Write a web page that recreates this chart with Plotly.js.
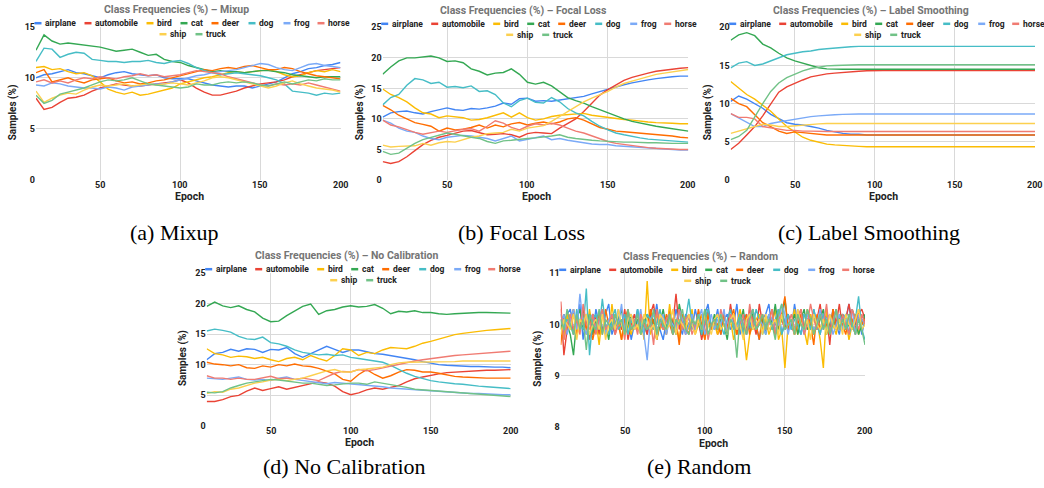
<!DOCTYPE html>
<html><head><meta charset="utf-8">
<script src="https://cdn.plot.ly/plotly-3.0.1.min.js"></script>
<style>html,body{margin:0;padding:0;background:#fff}#chart{width:1044px;height:488px}</style>
</head><body><div id="chart"></div>
<script>
// ---------- data ----------
const classNames = ['airplane','automobile','bird','cat','deer','dog','frog','horse','ship','truck'];
const epochs = [10,15,20,25,30,35,40,45,50,55,60,65,70,75,80,85,90,95,100,105,110,115,120,125,130,135,140,145,150,155,160,165,170,175,180,185,190,195,200];
const epochsRandom = [10,12,14,16,18,20,22,24,26,28,30,32,34,36,38,40,42,44,46,48,50,52,54,56,58,60,62,64,66,68,70,72,74,76,78,80,82,84,86,88,90,92,94,96,98,100,102,104,106,108,110,112,114,116,118,120,122,124,126,128,130,132,134,136,138,140,142,144,146,148,150,152,154,156,158,160,162,164,166,168,170,172,174,176,178,180,182,184,186,188,190,192,194,196,198,200];
const yTicksMixup = [0,5,10,15];
const yTicksFocal = [0,5,10,15,20,25];
const yTicksSmoothing = [0,5,10,15,20];
const yTicksNoCal = [0,5,10,15,20,25];
const yTicksRandom = [8,9,10,11];
const xTicks = [50,100,150,200];

// (a) Mixup
const mixup_airplane = [10.0,10.3,10.4,10.6,10.8,10.5,10.4,10.2,10.0,10.3,10.5,10.6,10.4,10.3,10.2,10.3,10.0,9.9,9.9,9.9,9.7,9.5,9.3,9.2,9.1,9.2,9.2,9.0,9.2,9.4,9.6,10.0,10.4,10.6,10.9,11.0,11.2,11.3,11.5];
const mixup_automobile = [8.0,6.9,7.1,7.6,8.0,8.1,8.3,8.7,9.0,9.2,9.4,9.3,9.2,9.2,9.3,9.4,9.5,9.6,9.8,9.5,9.0,8.6,8.3,8.3,8.5,8.7,9.0,9.2,9.4,9.5,9.6,9.8,10.1,10.3,10.5,10.7,10.8,10.9,11.0];
const mixup_bird = [11.0,11.1,10.8,10.9,10.6,10.4,10.5,10.2,9.6,8.9,8.6,8.4,8.6,8.3,8.4,8.6,8.8,9.0,9.4,9.6,9.8,10.0,10.1,10.3,10.5,10.6,10.5,10.6,10.7,10.8,10.6,10.3,10.1,10.2,10.5,10.7,10.6,10.8,10.6];
const mixup_cat = [12.7,14.2,13.6,13.3,13.4,13.3,13.2,13.1,13.0,12.8,12.6,12.7,12.8,12.5,12.2,12.3,11.8,11.6,11.5,11.2,11.0,10.8,10.6,10.7,10.6,10.6,10.5,10.6,10.7,10.7,10.6,10.5,10.3,10.2,10.1,10.0,10.1,10.1,10.1];
const mixup_deer = [10.5,10.8,9.6,9.8,10.0,9.7,9.5,9.8,9.9,10.0,9.7,9.5,9.6,9.4,9.5,9.7,9.8,10.0,10.2,10.4,10.6,10.8,10.7,10.9,11.0,10.9,11.1,11.2,11.0,10.8,10.8,11.0,10.9,10.6,10.4,10.2,10.1,10.0,9.9];
const mixup_dog = [11.6,12.9,12.8,12.0,12.3,12.5,12.4,11.8,11.7,11.6,11.6,11.5,11.6,11.6,11.7,11.5,11.4,11.6,11.7,11.4,11.0,10.7,10.5,10.3,10.4,10.5,10.4,10.3,10.2,10.0,9.8,9.4,8.7,8.6,8.5,8.3,8.5,8.4,8.5];
const mixup_frog = [9.3,9.2,9.5,9.4,9.2,9.1,9.0,9.0,8.9,9.1,9.0,8.8,9.1,9.2,9.3,9.4,9.4,9.6,9.8,10.0,10.2,10.3,10.5,10.6,10.7,10.8,11.0,11.2,11.4,11.3,11.0,10.8,10.7,11.0,11.3,11.4,11.2,11.1,11.0];
const mixup_horse = [9.6,9.8,9.5,9.7,9.5,9.8,10.0,9.9,10.1,10.0,9.9,10.1,10.2,10.4,10.2,10.3,10.1,10.2,10.3,10.5,10.7,10.6,10.5,10.4,10.1,9.9,9.7,9.5,9.3,9.2,9.4,9.3,9.4,9.3,9.5,9.3,9.1,8.9,8.7];
const mixup_ship = [8.7,7.6,8.0,8.3,8.5,8.4,8.8,9.1,9.3,9.2,9.3,9.4,9.2,9.3,9.4,9.3,9.4,9.5,9.4,9.3,9.5,9.7,10.0,10.1,10.0,9.8,9.6,9.4,9.2,9.0,9.2,9.5,9.7,9.4,9.2,9.0,8.9,8.8,8.6];
const mixup_truck = [8.3,7.5,7.8,8.4,8.6,8.8,9.0,9.3,9.6,9.8,9.7,9.8,10.0,9.7,9.4,9.3,9.2,9.1,9.0,9.1,9.4,9.3,9.3,9.5,9.6,9.5,9.6,9.5,9.3,9.2,9.4,9.6,9.4,9.6,9.8,9.7,9.9,9.8,9.8];

// (b) Focal Loss
const focal_airplane = [10.3,11.0,11.2,11.3,11.0,10.8,11.2,11.5,11.8,11.5,11.4,11.7,11.6,11.8,12.1,12.6,12.4,13.3,13.4,12.9,13.0,12.9,13.1,13.3,13.5,13.7,14.1,14.5,14.8,15.2,15.6,15.9,16.2,16.4,16.6,16.8,16.9,17.0,17.0];
const focal_automobile = [3.0,2.7,3.0,3.8,4.8,5.8,6.5,7.0,7.3,7.6,8.0,8.1,7.8,7.4,7.5,7.6,7.4,7.0,7.6,7.8,7.7,7.6,8.5,9.3,10.0,11.2,12.6,13.9,14.8,15.6,16.3,16.8,17.2,17.5,17.8,18.0,18.2,18.3,18.4];
const focal_bird = [14.9,14.0,13.5,12.8,11.8,11.0,10.8,10.2,10.5,10.3,10.2,9.8,9.9,10.2,10.6,11.0,10.3,11.0,10.2,9.8,10.0,10.4,10.6,10.7,10.8,10.9,10.6,10.4,10.3,10.1,9.9,9.8,9.6,9.5,9.4,9.4,9.3,9.2,9.2];
const focal_cat = [17.3,18.5,19.5,20.0,20.0,20.1,20.3,20.0,19.4,19.5,19.2,18.2,17.8,17.2,17.5,17.6,18.2,17.3,16.0,15.7,16.0,15.4,14.4,13.5,13.0,12.6,12.0,11.5,10.9,10.4,10.0,9.6,9.3,9.0,8.8,8.6,8.4,8.2,8.0];
const focal_deer = [12.2,11.5,10.6,10.0,9.4,9.1,8.8,8.0,8.5,8.2,8.3,8.6,9.0,8.5,9.0,8.7,9.2,9.4,9.0,9.3,9.5,9.2,9.5,10.0,10.2,9.8,9.2,8.6,8.3,8.0,7.9,7.8,7.6,7.5,7.4,7.3,7.2,7.0,6.9];
const focal_dog = [12.3,13.5,14.0,15.5,16.6,16.4,15.8,16.0,15.2,15.3,15.1,15.4,14.5,14.6,14.0,12.6,12.0,13.0,13.4,12.7,12.6,13.5,12.8,11.7,11.0,10.5,9.6,8.8,8.2,7.7,7.4,7.1,6.9,6.7,6.6,6.5,6.4,6.3,6.2];
const focal_frog = [9.8,9.3,8.5,8.0,7.8,7.2,6.8,6.6,7.0,7.2,7.3,7.2,7.0,6.8,6.4,6.8,7.2,6.4,6.7,6.9,7.2,6.6,6.8,6.5,6.3,6.0,5.9,5.8,5.8,5.6,5.5,5.4,5.3,5.2,5.1,5.0,5.0,4.9,4.9];
const focal_horse = [9.8,9.0,8.7,8.2,7.8,7.5,7.7,8.0,7.8,8.1,8.3,8.4,8.0,8.8,9.7,9.3,8.6,8.2,8.8,9.2,9.0,9.3,9.0,8.5,8.0,7.7,7.2,6.7,6.3,6.0,5.8,5.6,5.4,5.3,5.2,5.1,5.0,5.0,5.0];
const focal_ship = [5.7,5.4,5.5,5.6,5.6,6.0,5.7,6.1,6.3,6.2,6.6,7.0,7.2,7.6,7.7,7.8,8.3,8.0,8.5,8.7,8.9,9.6,10.4,11.2,12.0,12.8,13.4,13.9,14.5,15.2,15.8,16.2,16.6,17.0,17.3,17.5,17.7,17.9,18.1];
const focal_truck = [4.7,4.2,4.4,5.2,6.0,6.6,7.0,7.4,7.7,7.5,7.2,7.0,6.8,6.3,6.0,6.4,6.5,6.7,6.8,6.9,7.0,7.2,7.4,7.0,6.8,6.6,6.5,6.4,6.3,6.3,6.2,6.2,6.1,6.1,6.1,6.0,6.0,6.0,6.0];

// (c) Label Smoothing
const ls_airplane = [10.3,11.0,10.6,10.0,9.4,8.6,8.0,7.5,7.3,7.2,7.0,6.8,6.5,6.3,6.1,6.0,6.0,5.9,5.9,5.9,5.9,5.9,5.9,5.9,5.9,5.9,5.9,5.9,5.9,5.9,5.9,5.9,5.9,5.9,5.9,5.9,5.9,5.9,5.9];
const ls_automobile = [4.0,4.8,5.9,7.0,8.4,10.0,11.5,12.2,12.7,13.1,13.5,13.7,13.9,14.0,14.1,14.2,14.25,14.3,14.35,14.35,14.35,14.35,14.35,14.35,14.35,14.35,14.35,14.35,14.35,14.35,14.35,14.35,14.35,14.35,14.35,14.35,14.35,14.35,14.35];
const ls_bird = [12.9,12.0,11.2,10.6,9.8,9.0,8.0,7.0,6.3,5.6,5.2,4.9,4.7,4.6,4.5,4.45,4.4,4.35,4.35,4.35,4.35,4.35,4.35,4.35,4.35,4.35,4.35,4.35,4.35,4.35,4.35,4.35,4.35,4.35,4.35,4.35,4.35,4.35,4.35];
const ls_cat = [18.3,19.0,19.3,18.9,17.8,17.3,16.6,16.0,15.6,15.3,15.0,14.7,14.55,14.5,14.5,14.5,14.5,14.5,14.5,14.5,14.5,14.5,14.5,14.5,14.5,14.5,14.5,14.5,14.5,14.5,14.5,14.5,14.5,14.5,14.5,14.5,14.5,14.5,14.5];
const ls_deer = [10.7,10.0,9.6,8.5,7.5,7.0,6.4,6.1,6.3,6.2,6.1,6.0,5.9,5.9,5.9,5.9,5.9,5.9,5.9,5.9,5.9,5.9,5.9,5.9,5.9,5.9,5.9,5.9,5.9,5.9,5.9,5.9,5.9,5.9,5.9,5.9,5.9,5.9,5.9];
const ls_dog = [14.7,15.3,15.5,15.0,15.2,15.6,15.9,16.4,16.6,16.8,16.9,17.1,17.2,17.3,17.4,17.45,17.5,17.5,17.5,17.5,17.5,17.5,17.5,17.5,17.5,17.5,17.5,17.5,17.5,17.5,17.5,17.5,17.5,17.5,17.5,17.5,17.5,17.5,17.5];
const ls_frog = [8.7,8.1,7.6,7.0,7.0,7.4,7.6,7.8,8.0,8.2,8.3,8.4,8.5,8.55,8.6,8.65,8.65,8.65,8.65,8.65,8.65,8.65,8.65,8.65,8.65,8.65,8.65,8.65,8.65,8.65,8.65,8.65,8.65,8.65,8.65,8.65,8.65,8.65,8.65];
const ls_horse = [8.7,8.2,8.2,8.0,7.0,6.8,6.6,6.5,6.5,6.4,6.4,6.35,6.35,6.35,6.35,6.35,6.35,6.35,6.35,6.35,6.35,6.35,6.35,6.35,6.35,6.35,6.35,6.35,6.35,6.35,6.35,6.35,6.35,6.35,6.35,6.35,6.35,6.35,6.35];
const ls_ship = [6.1,6.4,6.7,7.0,7.3,7.2,7.0,7.0,7.1,7.2,7.3,7.35,7.4,7.4,7.4,7.4,7.4,7.4,7.4,7.4,7.4,7.4,7.4,7.4,7.4,7.4,7.4,7.4,7.4,7.4,7.4,7.4,7.4,7.4,7.4,7.4,7.4,7.4,7.4];
const ls_truck = [5.3,5.7,6.5,8.3,10.0,11.6,12.7,13.4,13.9,14.3,14.6,14.8,14.95,15.0,15.05,15.1,15.1,15.1,15.1,15.1,15.1,15.1,15.1,15.1,15.1,15.1,15.1,15.1,15.1,15.1,15.1,15.1,15.1,15.1,15.1,15.1,15.1,15.1,15.1];

// (d) No Calibration
const nc_airplane = [10.8,11.8,12.0,12.5,12.2,12.6,12.5,12.0,12.5,12.4,12.8,11.8,11.2,11.8,12.5,13.0,12.5,12.0,12.4,12.4,12.1,11.8,11.7,11.5,11.2,11.1,10.8,10.5,10.2,10.0,9.9,9.8,9.8,9.7,9.7,9.6,9.6,9.6,9.5];
const nc_automobile = [4.0,4.0,4.3,4.8,5.0,5.7,6.2,5.8,6.1,6.4,6.0,6.3,6.6,6.8,7.2,7.0,6.5,5.6,5.1,5.4,5.9,6.2,6.0,6.3,6.6,7.2,7.7,8.0,8.3,8.5,8.7,8.8,8.9,9.0,9.0,9.1,9.1,9.1,9.2];
const nc_bird = [12.6,11.8,11.6,11.2,11.4,11.3,11.0,11.2,10.8,10.5,11.0,11.2,10.8,11.5,11.0,10.6,11.5,12.6,12.4,11.5,12.0,11.8,12.4,12.8,12.7,12.6,13.0,13.5,13.8,14.2,14.6,14.9,15.1,15.3,15.5,15.6,15.7,15.8,15.9];
const nc_cat = [19.5,20.2,19.6,19.3,19.6,19.0,18.6,17.6,17.0,17.1,18.0,18.8,19.5,19.9,18.2,18.8,19.0,19.4,19.6,19.4,19.5,19.8,19.2,18.3,18.7,18.6,18.8,18.5,18.5,18.3,18.2,18.3,18.4,18.4,18.5,18.5,18.5,18.5,18.4];
const nc_deer = [10.4,10.1,10.0,9.8,10.0,9.5,9.4,9.8,9.6,10.0,9.8,10.1,9.8,9.7,9.4,9.0,8.5,7.6,7.3,8.4,9.2,8.4,7.8,8.2,8.8,9.2,9.1,8.8,8.8,8.6,8.3,8.1,8.0,7.9,7.9,7.8,7.8,7.8,7.8];
const nc_dog = [15.5,15.8,15.6,15.3,14.6,14.2,14.1,14.5,13.6,13.4,13.0,12.4,12.0,11.8,11.6,11.7,11.5,11.6,11.2,11.0,10.8,10.6,10.4,9.9,9.2,8.6,8.1,7.7,7.4,7.2,7.0,6.9,6.8,6.6,6.5,6.4,6.3,6.2,6.1];
const nc_frog = [7.8,7.7,7.6,7.8,8.0,7.6,7.5,7.6,7.4,7.8,8.0,7.6,7.4,7.2,7.0,6.9,7.1,7.0,6.9,6.8,6.6,6.5,6.4,6.2,6.1,6.0,5.9,5.8,5.8,5.7,5.6,5.5,5.4,5.3,5.3,5.2,5.2,5.1,5.1];
const nc_horse = [8.2,7.8,7.8,7.6,7.8,7.6,7.6,7.9,8.1,7.7,7.8,7.6,7.8,7.6,7.4,8.0,8.6,8.9,8.8,9.2,9.0,9.2,9.5,9.8,10.1,10.4,10.6,10.8,11.0,11.2,11.4,11.5,11.6,11.7,11.8,11.9,12.0,12.1,12.2];
const nc_ship = [5.3,5.6,5.5,6.0,6.2,6.6,7.0,7.2,7.5,7.6,7.4,7.6,7.8,8.2,8.6,9.0,9.2,8.8,8.8,9.2,9.3,9.4,9.6,10.0,10.3,10.4,10.4,10.5,10.5,10.5,10.5,10.5,10.6,10.6,10.6,10.6,10.6,10.6,10.6];
const nc_truck = [5.5,5.4,5.6,6.2,6.6,7.0,7.2,7.4,7.6,7.5,7.3,7.2,7.0,7.0,6.8,6.6,6.7,6.9,7.0,7.0,6.8,7.2,7.0,6.8,6.6,6.3,6.0,5.9,5.8,5.7,5.6,5.5,5.4,5.3,5.2,5.1,5.0,4.9,4.8];

// (e) Random
const rnd_airplane = [10.1,9.8,10.2,10.3,9.9,10.0,10.4,9.7, 10.2,10.1,9.8,10.3,10.0,9.9,10.2,10.4, 9.8,10.0,10.3,9.9,10.1,10.2,9.7,10.0, 10.3,9.9,10.1,9.8,10.2,10.0,10.4,9.9, 9.7,10.1,10.2,9.9,10.3,10.0,9.8,10.2, 10.1,9.9,10.3,10.0,9.8,10.2,10.4,9.9, 10.0,10.3,9.8,10.1,10.2,9.9,10.0,10.4, 9.8,10.1,10.2,9.9,10.3,10.0,9.7,10.1, 10.2,10.4,9.9,10.0,10.3,9.8,10.1,10.2, 9.9,10.4,10.0,9.8,10.2,10.1,9.9,10.3, 10.0,9.8,10.2,10.1,9.9,10.3,10.0,9.8, 10.2,10.1,10.4,9.9,10.0,10.2,9.8,10.1];
const rnd_automobile = [10.45,9.4,9.9,10.2,9.8,10.1,9.9,10.3, 10.0,9.7,10.2,10.1,9.8,10.3,9.9,10.0, 10.2,9.8,10.1,9.9,10.3,9.7,10.0,10.2, 9.9,10.1,10.0,9.8,10.2,10.4,9.9,10.0, 10.1,9.8,10.3,10.0,10.6,9.9,10.1,9.8, 10.0,10.2,9.9,10.1,9.7,10.0,10.3,9.9, 10.1,9.8,10.0,10.2,9.9,10.4,10.0,9.8, 10.2,10.0,9.9,10.3,10.1,9.8,10.4,10.0, 9.9,10.2,10.0,9.8,10.3,10.1,9.9,10.2, 10.0,9.8,10.1,10.3,9.9,10.0,10.2,9.8, 10.1,10.4,9.9,10.2,9.6,10.3,10.0,10.4, 9.9,10.1,10.4,10.0,9.8,10.2,10.3,10.1];
const rnd_bird = [10.0,9.7,10.2,9.9,10.3,9.8,10.1,10.0, 9.8,10.3,9.9,10.1,9.6,10.2,10.0,9.8, 10.4,9.9,10.1,9.7,10.2,10.0,9.8,10.1, 9.9,10.2,9.7,10.85,9.8,10.0,10.2,9.9, 10.1,9.8,10.4,9.9,10.0,9.7,10.2,10.1, 9.9,10.3,9.8,10.0,10.2,9.7,10.1,9.9, 10.0,9.8,10.1,10.2,9.9,10.1,9.7,10.0, 10.3,9.9,9.3,9.8,10.0,10.1,10.2,9.9, 10.1,9.8,10.0,10.3,9.7,9.9,9.15,10.0, 10.0,10.3,9.8,10.1,9.9,9.6,10.2,9.8, 10.1,9.7,9.15,10.3,9.9,10.0,9.8,10.2, 9.9,10.1,9.7,10.0,10.2,9.8,10.1,10.0];
const rnd_cat = [9.9,10.2,10.0,9.8,9.4,10.1,10.3,9.9, 10.0,10.2,9.8,10.1,9.9,10.3,10.0,9.7, 10.2,9.9,10.1,10.3,9.8,10.0,10.2,9.9, 10.1,9.8,10.0,10.2,9.9,10.1,9.7,10.0, 10.3,9.9,10.2,10.0,9.8,10.4,10.1,9.9, 10.0,10.2,9.9,10.1,9.8,10.3,10.0,9.9, 10.2,9.9,10.1,10.0,9.7,10.2,10.1,9.9, 10.0,10.3,9.8,10.1,10.2,9.9,10.0,10.1, 9.8,10.2,10.0,10.4,9.9,10.1,10.5,9.9, 10.0,10.2,9.8,10.1,10.3,9.9,10.0,10.2, 9.9,10.1,10.3,9.8,10.0,10.2,9.9,10.1, 10.2,9.9,10.0,10.3,10.1,9.8,10.0,10.2];
const rnd_deer = [9.6,10.2,9.9,10.1,10.3,9.8,10.0,10.2, 9.9,10.1,9.7,10.0,10.2,9.8,10.3,10.0, 9.9,10.2,10.0,9.7,10.1,10.3,9.9,10.0, 10.2,9.8,10.1,9.9,10.3,10.0,9.7,10.1, 9.9,10.2,10.0,9.8,10.1,9.6,10.2,10.0, 9.8,10.1,9.9,10.3,10.0,9.7,10.2,9.9, 10.1,10.0,9.8,10.2,9.9,10.1,10.3,9.8, 10.0,9.9,10.2,9.8,10.1,10.0,9.7,10.2, 9.9,10.1,10.3,9.8,10.0,10.2,10.55,9.9, 10.1,9.8,10.0,10.2,9.9,10.3,10.0,9.6, 10.2,9.9,10.1,10.0,9.8,10.3,9.9,10.1, 10.0,9.8,10.2,10.1,9.9,10.3,10.0,10.1];
const rnd_dog = [10.2,9.9,10.1,10.0,9.8,10.3,10.0,9.9, 10.7,9.4,10.1,10.2,9.9,10.5,10.0,9.8, 10.1,10.3,9.9,10.0,10.2,9.8,10.1,9.9, 10.3,10.0,9.8,10.2,10.1,9.9,10.0,10.3, 9.9,10.1,10.2,9.8,10.0,10.3,9.9,10.1, 10.5,10.0,9.9,10.2,9.8,10.1,10.3,10.0, 9.9,10.2,10.0,9.8,10.1,10.3,9.9,10.0, 10.2,9.8,10.1,10.0,9.9,10.3,10.1,9.8, 10.0,10.2,9.9,10.1,10.3,9.8,10.0,10.2, 9.9,10.1,10.0,9.8,10.2,10.1,9.9,10.3, 10.0,9.8,10.2,10.1,9.9,10.0,10.3,9.9, 10.1,10.2,9.8,10.0,10.1,10.55,9.9,9.7];
const rnd_frog = [10.0,10.2,9.8,10.1,10.3,9.9,10.6,10.0, 9.8,10.1,10.2,9.9,10.0,10.3,9.8,10.1, 10.2,9.9,10.0,10.4,9.8,10.1,10.2,9.9, 10.0,10.3,9.8,9.3,10.1,10.2,9.9,10.0, 10.2,9.8,10.1,10.0,9.9,10.3,10.1,9.8, 10.0,10.2,9.9,10.1,10.3,9.8,10.0,10.2, 9.9,10.1,10.0,10.3,9.8,10.2,10.0,9.9, 10.1,10.0,9.8,10.2,10.3,9.9,10.1,10.0, 9.8,10.2,10.1,9.9,10.0,10.4,10.2,9.8, 10.1,9.9,10.3,10.0,9.8,10.2,10.1,9.9, 10.0,10.3,9.9,10.1,10.2,9.8,10.0,10.2, 9.9,10.1,10.0,10.3,9.8,10.2,10.1,10.0];
const rnd_horse = [10.3,9.7,10.0,10.2,9.9,10.1,9.8,10.4, 10.0,9.9,10.2,9.8,10.1,10.3,9.9,10.0, 10.2,9.8,10.0,10.1,9.7,10.3,9.9,10.1, 9.8,10.2,10.0,9.9,10.1,9.6,10.3,10.0, 9.9,10.1,10.2,9.8,10.0,10.3,9.9,10.1, 10.2,9.8,10.0,10.1,9.9,10.2,9.7,10.0, 10.1,9.9,10.3,10.0,9.8,10.2,10.1,9.9, 10.0,10.2,9.8,10.4,10.0,9.9,10.1,10.2, 9.9,10.0,10.3,9.8,10.1,10.2,9.9,10.0, 10.2,9.9,10.1,10.3,9.8,10.0,10.4,10.1, 9.9,10.2,10.0,10.4,9.8,10.1,10.3,9.9, 10.2,10.0,9.8,10.3,10.1,9.9,10.2,10.0];
const rnd_ship = [9.8,10.1,10.0,9.9,10.2,9.7,10.1,10.0, 10.2,9.8,10.0,10.1,9.9,10.2,9.7,10.0, 10.1,9.9,10.3,10.0,9.8,10.1,10.2,9.9, 10.0,9.8,10.2,10.1,9.9,10.0,9.7,10.2, 10.1,9.9,10.0,10.3,9.8,10.1,10.0,9.9, 10.2,10.0,9.8,10.1,9.9,10.2,10.0,9.8, 10.1,10.2,9.9,10.0,9.8,10.1,10.2,9.9, 10.0,9.7,10.1,10.2,9.9,10.0,10.1,9.8, 10.2,9.9,10.0,10.1,9.8,10.2,9.9,10.0, 10.1,9.8,10.3,10.0,9.9,10.1,9.7,10.2, 10.0,9.9,10.1,9.8,10.2,10.0,9.9,10.1, 9.8,10.2,10.0,9.9,10.1,10.3,9.9,10.0];
const rnd_truck = [10.1,9.9,10.3,10.0,9.8,10.2,9.9,10.1, 9.5,10.2,10.0,9.9,10.3,9.8,10.1,10.0, 9.9,10.2,10.0,10.1,9.8,10.3,9.9,10.0, 10.2,9.8,10.1,9.9,10.0,10.3,9.8,10.1, 10.0,9.9,10.2,9.8,10.1,10.0,10.3,9.9, 9.8,10.1,10.0,10.2,9.9,10.3,9.8,10.0, 10.1,9.9,10.2,10.0,9.8,10.1,10.0,9.35, 10.2,10.0,9.8,10.1,10.3,9.9,10.0,10.2, 9.9,10.1,10.0,9.7,10.2,10.4,9.9,10.0, 10.1,9.8,10.2,10.0,9.9,10.3,10.1,9.8, 10.0,10.2,9.9,10.1,9.8,10.0,10.3,9.9, 10.1,9.9,10.2,10.0,9.8,10.1,9.9,9.6];

const mixupSeries = [mixup_airplane,mixup_automobile,mixup_bird,mixup_cat,mixup_deer,mixup_dog,mixup_frog,mixup_horse,mixup_ship,mixup_truck];
const focalSeries = [focal_airplane,focal_automobile,focal_bird,focal_cat,focal_deer,focal_dog,focal_frog,focal_horse,focal_ship,focal_truck];
const smoothingSeries = [ls_airplane,ls_automobile,ls_bird,ls_cat,ls_deer,ls_dog,ls_frog,ls_horse,ls_ship,ls_truck];
const noCalSeries = [nc_airplane,nc_automobile,nc_bird,nc_cat,nc_deer,nc_dog,nc_frog,nc_horse,nc_ship,nc_truck];
const randomSeries = [rnd_airplane,rnd_automobile,rnd_bird,rnd_cat,rnd_deer,rnd_dog,rnd_frog,rnd_horse,rnd_ship,rnd_truck];

// ---------- style / layout ----------
const colors = ['#4285F4','#EA4335','#FBBC04','#34A853','#FF6D01','#46BDC6','#7BAAF7','#F07B72','#FCD04F','#71C287'];
const W = 1044, H = 488;
const px = v => v / W;
const py = v => 1 - v / H;
const FONT = 'Roboto, Arial, sans-serif';

const panels = [
  {title:'Class Frequencies (%) – Mixup', caption:'(a) Mixup', box:[36,26.7,340.5,180], yticks:yTicksMixup, x:epochs, series:mixupSeries, capY:232},
  {title:'Class Frequencies (%) – Focal Loss', caption:'(b) Focal Loss', box:[382.7,27.3,688.3,180], yticks:yTicksFocal, x:epochs, series:focalSeries, capY:232},
  {title:'Class Frequencies (%) – Label Smoothing', caption:'(c) Label Smoothing', box:[730.7,27.3,1035,180], yticks:yTicksSmoothing, x:epochs, series:smoothingSeries, capY:232},
  {title:'Class Frequencies (%) – No Calibration', caption:'(d) No Calibration', box:[206.7,272.7,510.7,426], yticks:yTicksNoCal, x:epochs, series:noCalSeries, capY:466},
  {title:'Class Frequencies (%) – Random', caption:'(e) Random', box:[560.7,273.3,865,426.7], yticks:yTicksRandom, x:epochsRandom, series:randomSeries, capY:466}
];
const legendRow1 = [0,50,112,146,177,214,249,283];
const legendRow2 = [125,161];

const traces = [];
const layout = {
  width: W, height: H, margin:{l:0,r:0,t:0,b:0},
  paper_bgcolor:'#fff', plot_bgcolor:'rgba(0,0,0,0)',
  showlegend:false, annotations:[], shapes:[], font:{family:FONT}
};
const tickFont = {family:FONT, size:9, color:'#222', weight:700};

panels.forEach((p, i) => {
  const s = i === 0 ? '' : String(i + 1);
  const [l, t, r, b] = p.box;
  const cx = (l + r) / 2;
  layout['xaxis' + s] = {
    domain:[px(l), px(r)], anchor:'y' + s, range:[10, 200], tickvals:xTicks,
    showgrid:true, gridcolor:'#d9d9d9', gridwidth:1, zeroline:false, showline:false, ticks:'',
    showticklabels:false, fixedrange:true
  };
  layout['yaxis' + s] = {
    domain:[py(b), py(t)], anchor:'x' + s, range:[p.yticks[0], p.yticks[p.yticks.length - 1]],
    tickvals:p.yticks, ticktext:p.yticks.map(String),
    showgrid:true, gridcolor:'#d9d9d9', gridwidth:1, zeroline:false, showline:false, ticks:'',
    tickfont:tickFont, fixedrange:true
  };
  p.series.forEach((ys, k) => {
    traces.push({x:p.x, y:ys, type:'scatter', mode:'lines', name:classNames[k],
      xaxis:'x' + s, yaxis:'y' + s, line:{color:colors[k], width:1.4}, hoverinfo:'skip'});
  });
  // x tick labels, placed on the x axis scale
  xTicks.forEach(v => {
    layout.annotations.push({xref:'x' + s, yref:'paper', x:v, y:py(b + 4.5), xanchor:'center', yanchor:'middle',
      showarrow:false, text:String(v), font:tickFont, borderpad:0});
  });
  // title
  layout.annotations.push({xref:'paper', yref:'paper', x:px(cx - 12), y:py(t - 17), xanchor:'center', yanchor:'middle',
    showarrow:false, text:p.title, font:{family:FONT, size:10.5, color:'#757575', weight:700}});
  // legend
  const lx = l - 1.5, ly1 = t - 3.5, ly2 = t + 7.5;
  const addItem = (k, off, ly) => {
    layout.shapes.push({type:'line', xref:'paper', yref:'paper', x0:px(lx + off), x1:px(lx + off + 7),
      y0:py(ly), y1:py(ly), line:{color:colors[k], width:2.5}});
    layout.annotations.push({xref:'paper', yref:'paper', x:px(lx + off + 9.5), y:py(ly), xanchor:'left', yanchor:'middle',
      showarrow:false, text:classNames[k], font:{family:FONT, size:8.5, color:'#222', weight:700}, borderpad:0});
  };
  legendRow1.forEach((off, k) => addItem(k, off, ly1));
  legendRow2.forEach((off, j) => addItem(8 + j, off, ly2));
  // axis titles
  layout.annotations.push({xref:'paper', yref:'paper', x:px(cx + 1), y:py(b + 16.5), xanchor:'center', yanchor:'middle',
    showarrow:false, text:'Epoch', font:{family:FONT, size:10.5, color:'#222', weight:700}, borderpad:0});
  layout.annotations.push({xref:'paper', yref:'paper', x:px(l - 23), y:py((t + b) / 2 + 9), xanchor:'center', yanchor:'middle',
    textangle:-90, showarrow:false, text:'Samples (%)', font:{family:FONT, size:10, color:'#222', weight:700}});
  // caption
  layout.annotations.push({xref:'paper', yref:'paper', x:px(cx - 14), y:py(p.capY), xanchor:'center', yanchor:'middle',
    showarrow:false, text:p.caption, font:{family:'"Liberation Serif", "Times New Roman", serif', size:22, color:'#000'}});
});

Plotly.newPlot('chart', traces, layout, {staticPlot:true, displayModeBar:false});
</script>
</body></html>
